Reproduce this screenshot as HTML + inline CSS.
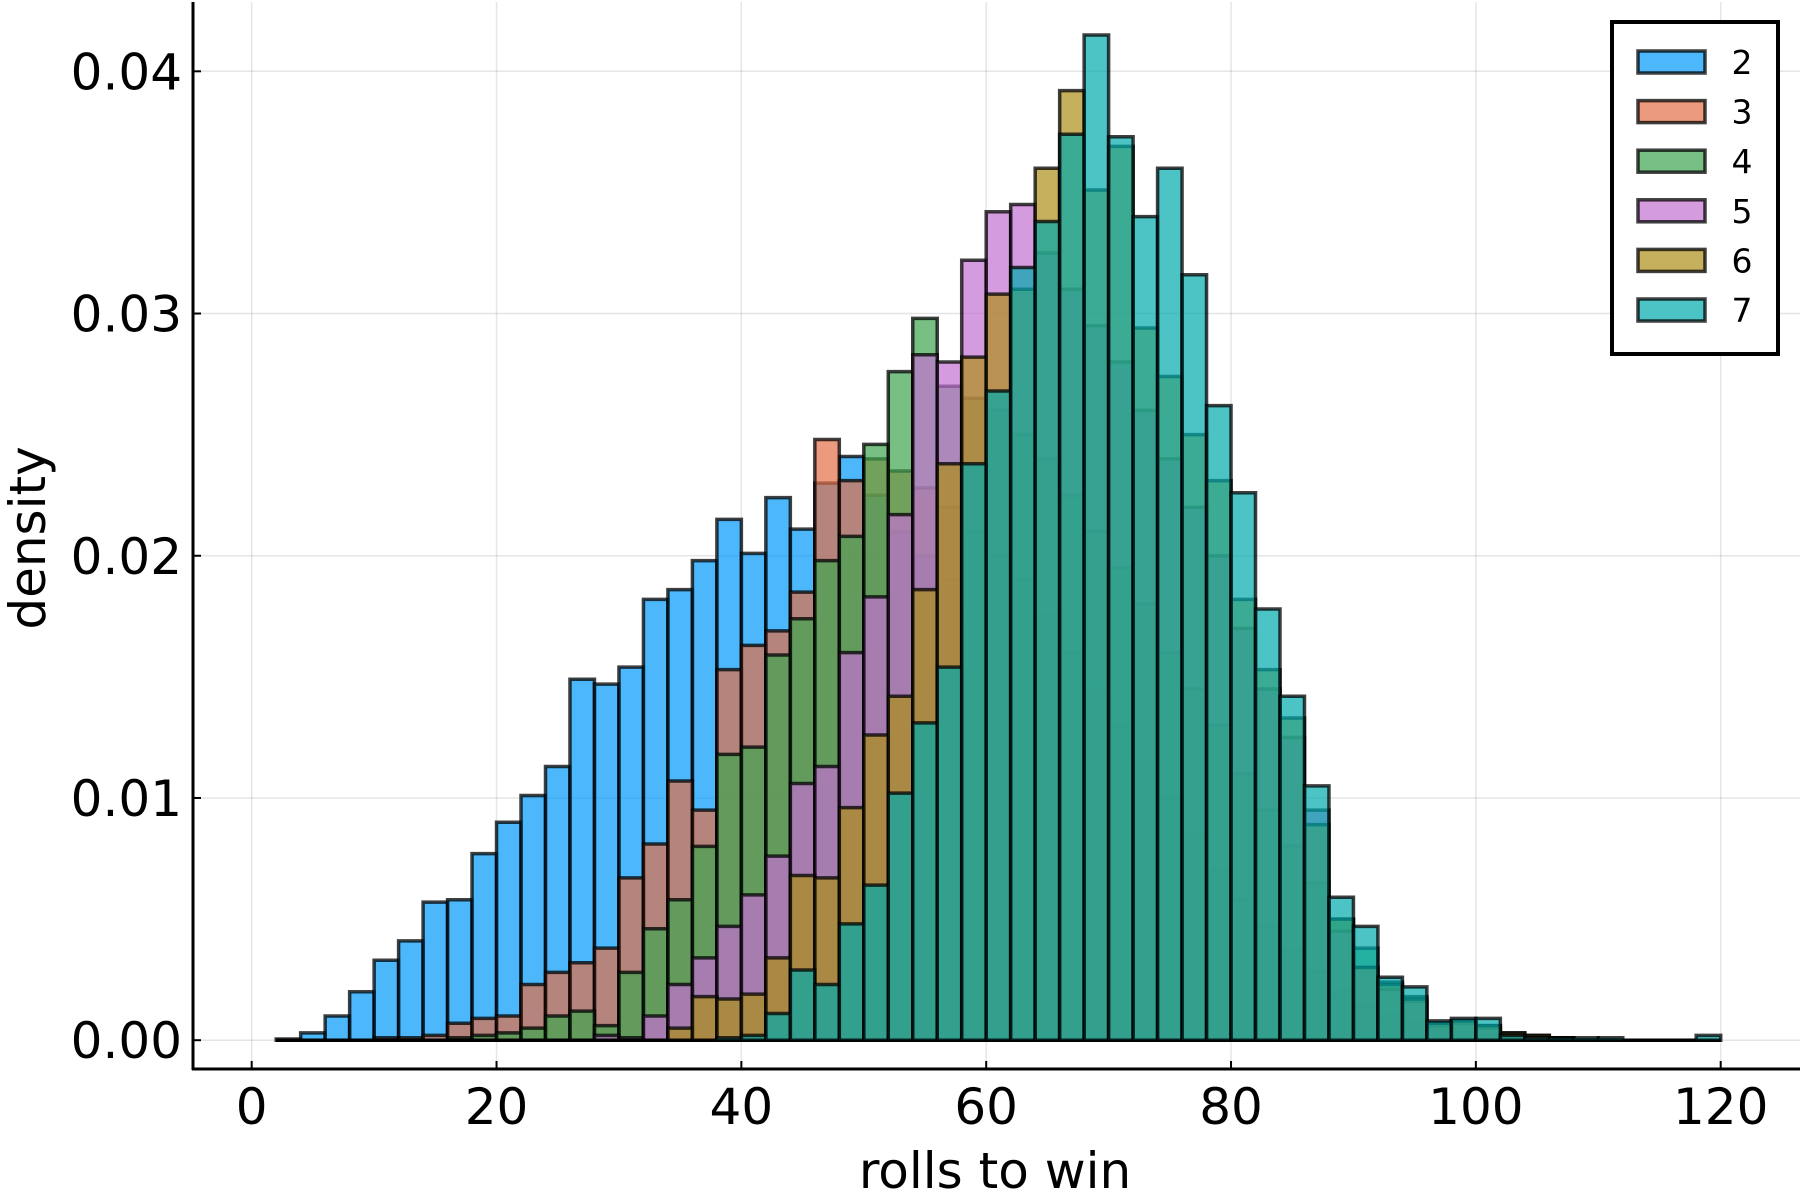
<!DOCTYPE html>
<html><head><meta charset="utf-8"><style>
html,body{margin:0;padding:0;background:#fff;}
svg{display:block;font-family:"DejaVu Sans","Liberation Sans",sans-serif;}
</style></head><body>
<svg id="chart" width="1800" height="1200" viewBox="0 0 1800 1200" xmlns="http://www.w3.org/2000/svg">
<rect x="0" y="0" width="1800" height="1200" fill="#fff"/>
<g id="grid"></g>
<g id="bars"></g>
<g id="axes"></g>
<text x="995" y="1188" font-size="50" text-anchor="middle">rolls to win</text>
<text transform="translate(45,538) rotate(-90)" font-size="50" text-anchor="middle">density</text>
<g id="legend"></g>
</svg>
<script>
const binStart = 2;
const binWidth = 2;
const seriesNames = ["2","3","4","5","6","7"];
const s2 = [0.00005,0.0003,0.001,0.002,0.0033,0.0041,0.0057,0.0058,0.0077,0.009,0.0101,0.0113,0.0149,0.0147,0.0154,0.0182,0.0186,0.0198,0.0215,0.0201,0.0224,0.0211,0.023,0.0241,0.0225,0.021,0.02,0.019,0.0175,0.016,0.015,0.0135,0.012,0.011,0.0095,0.0085,0.0072,0.006,0.005,0.004,0.0032,0.0025,0.0019,0.0014,0.001,0.0007,0.0005,0.0003,0.0002,0.0001,0.0001,0,0,0,0,0,0,0,0];
const s3 = [0,0,0,0,0.0001,0.0001,0.0002,0.0007,0.0009,0.001,0.0023,0.0028,0.0032,0.0038,0.0067,0.0081,0.0107,0.0095,0.0153,0.0163,0.0169,0.0185,0.0248,0.0231,0.024,0.0235,0.0228,0.022,0.021,0.02,0.019,0.0175,0.016,0.0145,0.013,0.0115,0.01,0.0085,0.007,0.0058,0.0047,0.0037,0.0028,0.002,0.0014,0.001,0.0007,0.0005,0.0003,0.0002,0.0001,0.0001,0,0,0,0,0,0,0];
const s4 = [0,0,0,0,0,0,0,0.0001,0.0002,0.0003,0.0005,0.001,0.0012,0.0006,0.0028,0.0046,0.0058,0.008,0.0118,0.0121,0.0159,0.0174,0.0198,0.0208,0.0246,0.0276,0.0298,0.027,0.0265,0.026,0.025,0.024,0.0225,0.021,0.0195,0.018,0.016,0.0145,0.013,0.011,0.0095,0.008,0.0065,0.005,0.0038,0.0024,0.0018,0.0007,0.0008,0.0006,0.0003,0.0002,0.0001,0,0,0,0,0,0];
const s5 = [0,0,0,0,0,0,0,0,0,0,0,0,0,0.0002,0.0001,0.001,0.0023,0.0034,0.0047,0.006,0.0076,0.0106,0.0113,0.016,0.0183,0.0217,0.0283,0.028,0.0322,0.0342,0.0345,0.0325,0.031,0.0295,0.028,0.026,0.024,0.022,0.02,0.017,0.0145,0.0125,0.0095,0.0045,0.003,0.0021,0.0016,0.0006,0.0007,0.0005,0.0002,0.0001,0.0001,0,0,0,0,0,0];
const s6 = [0,0,0,0,0,0,0,0,0,0,0,0,0,0,0,0,0.0005,0.0018,0.0017,0.0019,0.0034,0.0068,0.0067,0.0096,0.0126,0.0142,0.0186,0.0238,0.0282,0.0308,0.031,0.036,0.0392,0.0351,0.0369,0.0294,0.0274,0.025,0.0231,0.0182,0.0153,0.0133,0.0089,0.005,0.003,0.0023,0.0017,0.0007,0.0008,0.0006,0.0003,0.0002,0.0001,0,0,0,0,0,0];
const s7 = [0,0,0,0,0,0,0,0,0,0,0,0,0,0,0,0,0,0,0.0001,0.0002,0.0011,0.0029,0.0023,0.0048,0.0064,0.0102,0.0131,0.0154,0.0238,0.0268,0.0319,0.0338,0.0374,0.0415,0.0373,0.034,0.036,0.0316,0.0262,0.0226,0.0178,0.0142,0.0105,0.0059,0.0047,0.0026,0.0022,0.0008,0.0009,0.0009,0.0002,0.0001,0.0001,0.0001,0.0001,0,0,0,0.0002];
const xTicks = [0,20,40,60,80,100,120];
const yTicks = [0,0.01,0.02,0.03,0.04];
const yTickLabels = ["0.00","0.01","0.02","0.03","0.04"];

const series = [s2,s3,s4,s5,s6,s7];
const colors = ["#009AFA","#E36F47","#3EA44E","#C371D2","#AC8E18","#00A9AD"];
const NS = "http://www.w3.org/2000/svg";
const X0 = 251.7, XPU = (1720.7-251.7)/120;
const Y0 = 1040.2, YPU = (1040.2-71.3)/0.04;
function xs(v){return X0 + v*XPU;}
function ys(v){return Y0 - v*YPU;}
function mk(tag, attrs, parent){const e=document.createElementNS(NS,tag);for(const k in attrs)e.setAttribute(k,attrs[k]);parent.appendChild(e);return e;}

const grid = document.getElementById('grid');
xTicks.forEach(t=>{
  const l = mk('line',{x1:xs(t),x2:xs(t),y1:2,y2:1069,stroke:'#000','stroke-opacity':0.1,'stroke-width':1.5},grid);
  
  
});
yTicks.forEach(t=>{
  const l = mk('line',{x1:193,x2:1800,y1:ys(t),y2:ys(t),stroke:'#000','stroke-opacity':0.1,'stroke-width':1.5},grid);
  
  
});

const bars = document.getElementById('bars');
series.forEach((vals,si)=>{
  const g = mk('g',{},bars);
  
  
  vals.forEach((v,i)=>{
    const a = xs(binStart+i*binWidth), b = xs(binStart+(i+1)*binWidth);
    const y1 = ys(v);
    const p = mk('path',{d:`M${a},${Y0} V${y1} H${b} V${Y0} Z`,fill:colors[si],'fill-opacity':0.7,stroke:'#000','stroke-opacity':0.75,'stroke-width':3.5},g);
    
    
  });
});

const axes = document.getElementById('axes');
mk('line',{x1:193,x2:193,y1:2,y2:1070,stroke:'#000','stroke-width':3},axes);
mk('line',{x1:192,x2:1800,y1:1069,y2:1069,stroke:'#000','stroke-width':3},axes);
xTicks.forEach(t=>{
  mk('line',{x1:xs(t),x2:xs(t),y1:1069,y2:1061,stroke:'#000','stroke-width':2},axes);
  const tx = mk('text',{x:xs(t),y:1124,'font-size':50,'text-anchor':'middle'},axes);
  tx.textContent = String(t);
  
  
});
yTicks.forEach((t,i)=>{
  mk('line',{x1:193,x2:201,y1:ys(t),y2:ys(t),stroke:'#000','stroke-width':2},axes);
  const tx = mk('text',{x:182,y:ys(t)+18,'font-size':50,'text-anchor':'end'},axes);
  tx.textContent = yTickLabels[i];
  
  
});

const legend = document.getElementById('legend');
const box = mk('rect',{x:1612,y:22,width:166,height:332,fill:'#fff',stroke:'#000','stroke-width':4},legend);


seriesNames.forEach((n,i)=>{
  const cy = 62 + i*49.6;
  const g = mk('g',{},legend);
  
  
  mk('rect',{x:1638,y:cy-11,width:67,height:22,fill:colors[i],'fill-opacity':0.7,stroke:'#000','stroke-opacity':0.75,'stroke-width':3.5},g);
  const t = mk('text',{x:1742,y:cy+12,'font-size':33,'text-anchor':'middle'},g);
  t.textContent = n;
});
</script>
</body></html>
